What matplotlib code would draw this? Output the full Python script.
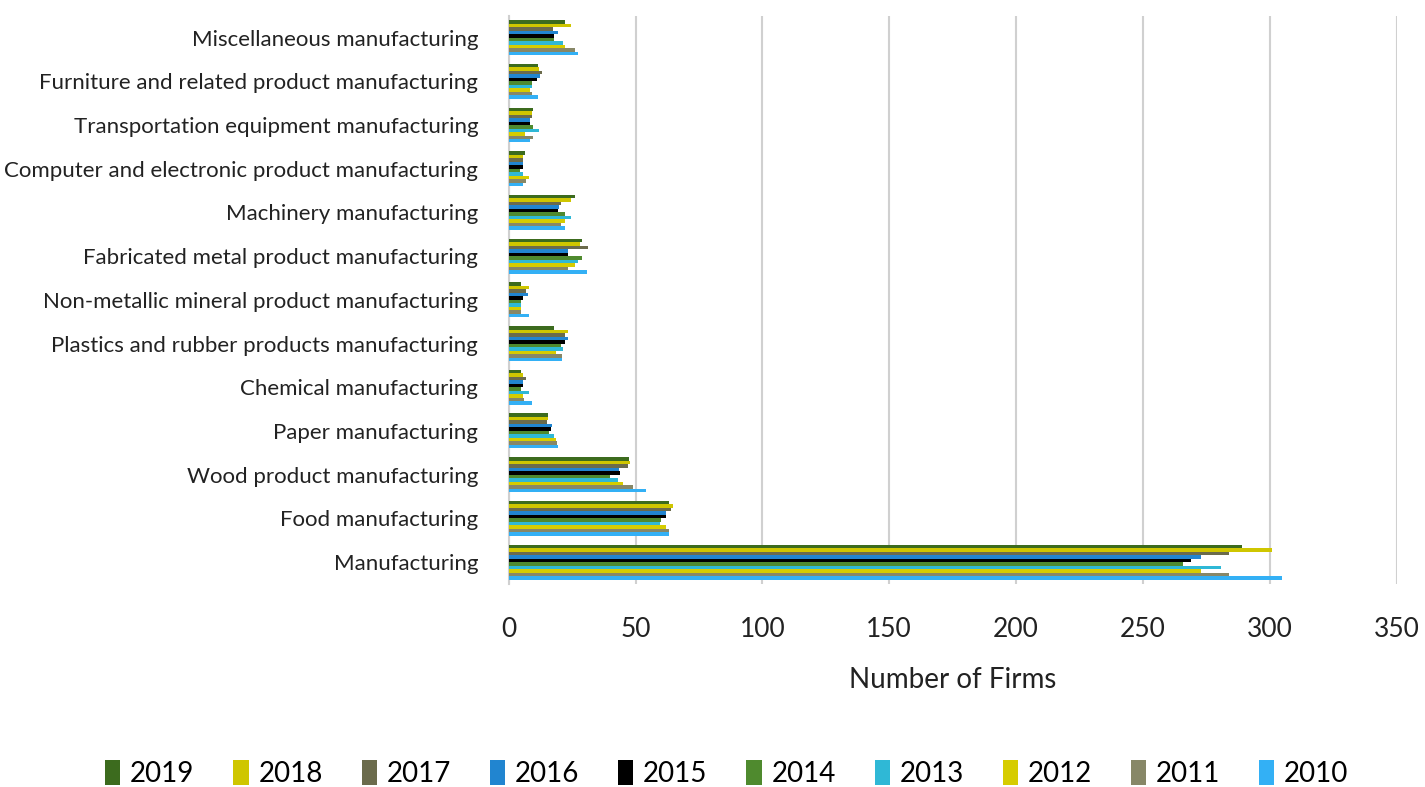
import matplotlib
matplotlib.use("Agg")
import matplotlib.pyplot as plt
import numpy as np

categories = [
    "Manufacturing",
    "Food manufacturing",
    "Wood product manufacturing",
    "Paper manufacturing",
    "Chemical manufacturing",
    "Plastics and rubber products manufacturing",
    "Non-metallic mineral product manufacturing",
    "Fabricated metal product manufacturing",
    "Machinery manufacturing",
    "Computer and electronic product manufacturing",
    "Transportation equipment manufacturing",
    "Furniture and related product manufacturing",
    "Miscellaneous manufacturing",
]

years = ["2010", "2011", "2012", "2013", "2014", "2015", "2016", "2017", "2018", "2019"]

v2010 = [305, 63, 54, 19.5, 9, 21, 8, 31, 22, 5.8, 8.4, 11.6, 27.4]
v2011 = [284, 63, 49, 19, 6, 21, 5, 23.4, 20.8, 6.7, 9.5, 9.3, 26]
v2012 = [273, 62, 45, 18.5, 5.5, 18.5, 5, 26, 22.3, 8, 6.3, 8.4, 22]
v2013 = [281, 59.5, 43, 18, 8, 21.5, 5, 27.4, 24.7, 5.8, 12, 9.3, 21.3]
v2014 = [266, 60, 40, 16, 5, 20.8, 5, 28.7, 22, 4.6, 9.6, 9.3, 18]
v2015 = [269, 62, 44, 16.7, 5.5, 22, 5.5, 23.4, 19.5, 5.5, 8.4, 11, 18]
v2016 = [273, 62, 43.5, 17, 5.5, 23.4, 7.6, 23.4, 20, 5.8, 8.4, 12.4, 19.5]
v2017 = [284, 64, 47, 15, 6.7, 22, 7, 31.3, 20.8, 5.8, 9.3, 13.3, 17.5]
v2018 = [301, 64.6, 48, 15.5, 5.5, 23.4, 8, 28, 24.7, 5.8, 9.3, 12, 24.7]
v2019 = [289, 63, 47.5, 15.5, 5, 18, 5, 28.7, 26, 6.3, 9.6, 11.6, 22]

series = [v2010, v2011, v2012, v2013, v2014, v2015, v2016, v2017, v2018, v2019]
colors = ["#33B0F5", "#878767", "#D6CC00", "#2FB8D6", "#4F8A2E",
          "#000000", "#2185D0", "#6B6B4C", "#CFC600", "#3C6B1E"]

plt.rcParams['font.family'] = ['Lato', 'DejaVu Sans']

fig = plt.figure(figsize=(14.25, 7.87), dpi=100)
ax = fig.add_axes([0.357, 0.258, 0.623, 0.722])

n = len(series)
h = 0.08
y = np.arange(len(categories))
handles = {}
for j, (vals, col) in enumerate(zip(series, colors)):
    b = ax.barh(y + (j - (n - 1) / 2) * h, vals, height=h, color=col, zorder=3)
    handles[years[j]] = b

ax.set_xlim(0, 350)
ax.set_ylim(-0.5, len(categories) - 0.5)
ax.set_xticks(np.arange(0, 351, 50))
ax.set_yticks(y)
ax.set_yticklabels(categories, fontsize=16, color="#222222")
ax.tick_params(axis='y', length=0, pad=22)
ax.tick_params(axis='x', length=0, pad=24, labelsize=19, labelcolor="#222222")
ax.xaxis.grid(True, color="#D0D0D0", linewidth=1.5, zorder=0)
for s in ["top", "right", "bottom"]:
    ax.spines[s].set_visible(False)
ax.spines["left"].set_color("#D0D0D0")
ax.spines["left"].set_linewidth(1.5)
ax.set_xlabel("Number of Firms", fontsize=20, color="#222222", labelpad=18)

order = years[::-1]
leg = fig.legend([handles[k] for k in order], order, loc="lower center",
                 bbox_to_anchor=(0.51, -0.032), ncol=10, frameon=False,
                 fontsize=20, handlelength=0.55, handleheight=1.0,
                 handletextpad=0.35, columnspacing=1.4)

fig.savefig("out.png", dpi=100)
